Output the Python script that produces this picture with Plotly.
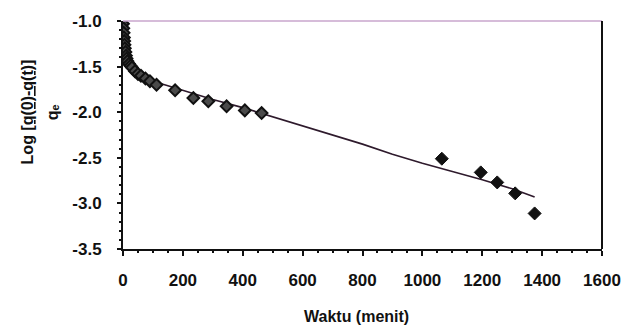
import plotly.graph_objects as go

# Adsorption kinetics: log[(q(0)-q(t))/qe] against time (minutes)
waktu_awal = [0, 1, 2, 3, 4, 5, 6, 8, 10, 12, 15, 20, 25, 30, 40, 50, 60, 75, 90,
              112, 174, 235, 285, 346, 407, 463]
log_awal = [-1.03, -1.08, -1.13, -1.18, -1.22, -1.26, -1.30, -1.34, -1.38, -1.41,
            -1.44, -1.47, -1.49, -1.51, -1.55, -1.58, -1.60, -1.63, -1.66,
            -1.70, -1.76, -1.845, -1.88, -1.935, -1.98, -2.01]

waktu_akhir = [1065, 1195, 1250, 1310, 1375]
log_akhir = [-2.51, -2.66, -2.77, -2.89, -3.11]

# Model curve
waktu_model = [0, 2, 5, 10, 20, 35, 50, 75, 100, 150, 200, 300, 400, 500, 600,
               700, 800, 900, 1000, 1100, 1200, 1300, 1375]
log_model = [-1.0, -1.12, -1.25, -1.36, -1.45, -1.53, -1.58, -1.63, -1.66, -1.71,
             -1.76, -1.86, -1.95, -2.05, -2.15, -2.25, -2.35, -2.46, -2.56,
             -2.65, -2.74, -2.84, -2.93]

x_ticks = [0, 200, 400, 600, 800, 1000, 1200, 1400, 1600]
y_ticks = [-1.0, -1.5, -2.0, -2.5, -3.0, -3.5]

FONT = "Liberation Sans, Arial, sans-serif"

fig = go.Figure()

fig.add_trace(go.Scatter(
    x=waktu_model, y=log_model, mode="lines",
    line=dict(color="#2e1a2c", width=1.6), showlegend=False,
))
fig.add_trace(go.Scatter(
    x=waktu_awal, y=log_awal, mode="markers",
    marker=dict(symbol="diamond", size=9, color="#4a4a4a",
                line=dict(color="#111111", width=2)),
    showlegend=False,
))
fig.add_trace(go.Scatter(
    x=waktu_akhir, y=log_akhir, mode="markers",
    marker=dict(symbol="diamond", size=10, color="#111111",
                line=dict(color="#111111", width=1)),
    showlegend=False,
))

fig.update_layout(
    width=637, height=332,
    margin=dict(l=123, r=35, t=19, b=83),
    paper_bgcolor="white", plot_bgcolor="white",
    font=dict(family=FONT, color="#111111"),
    xaxis=dict(
        range=[0, 1600], tickvals=x_ticks, ticktext=[str(v) for v in x_ticks],
        showgrid=False, zeroline=False,
        showline=True, linecolor="#111111", linewidth=2,
        ticks="outside", ticklen=5, tickwidth=1.5, tickcolor="#111111",
        minor=dict(dtick=50, ticks="outside", ticklen=2, tickcolor="#111111", tickwidth=1.5),
        tickfont=dict(size=17, weight="bold", family=FONT),
        ticklabelstandoff=10,
    ),
    yaxis=dict(
        range=[-3.5, -1.0], tickvals=y_ticks, ticktext=["-1.0", "-1.5", "-2.0", "-2.5", "-3.0", "-3.5"],
        showgrid=False, zeroline=False,
        showline=True, linecolor="#111111", linewidth=2,
        ticks="outside", ticklen=4, tickwidth=1.5, tickcolor="#111111",
        minor=dict(dtick=0.1, ticks="outside", ticklen=2, tickcolor="#111111", tickwidth=1.5),
        tickfont=dict(size=17, weight="bold", family=FONT),
        ticklabelstandoff=12,
    ),
    shapes=[
        dict(type="line", xref="paper", yref="paper", x0=0, x1=1, y0=1, y1=1,
             line=dict(color="#c8a6cc", width=1.5)),
        dict(type="line", xref="paper", yref="paper", x0=1, x1=1, y0=0, y1=1,
             line=dict(color="#111111", width=2)),
    ],
    annotations=[
        dict(text="Waktu (menit)", xref="paper", yref="paper", x=0.487, y=-0.295,
             showarrow=False, font=dict(size=16, weight="bold", family=FONT),
             xanchor="center", yanchor="middle"),
        dict(text="Log <u>[q(0)-q(t)]</u>", xref="paper", yref="paper", x=-0.2, y=0.6,
             textangle=-90, showarrow=False,
             font=dict(size=16, weight="bold", family=FONT),
             xanchor="center", yanchor="middle"),
        dict(text="qₑ", xref="paper", yref="paper", x=-0.148, y=0.6,
             textangle=-90, showarrow=False,
             font=dict(size=16, weight="bold", family=FONT),
             xanchor="center", yanchor="middle"),
    ],
)

fig.write_html("out.html")
